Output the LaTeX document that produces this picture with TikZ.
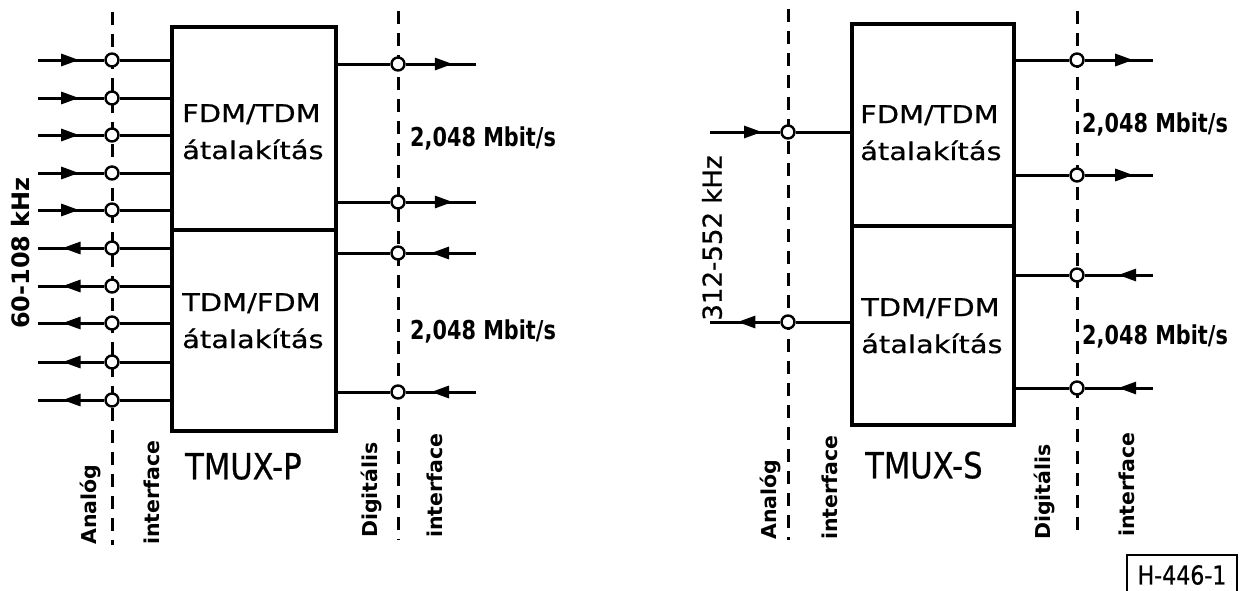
\documentclass[tikz,border=0pt]{standalone}
\usepackage{fontspec}
\setmainfont{DejaVu Sans}
\newfontfamily\boxfont[FakeStretch=1.18,FakeBold=0.6]{DejaVu Sans}
\newfontfamily\tmuxfont[FakeStretch=0.85,FakeBold=0.6]{DejaVu Sans}
\newfontfamily\ratefont[FakeStretch=0.8]{DejaVu Sans}
\newfontfamily\freqfont[FakeBold=0.8]{DejaVu Sans}
\usetikzlibrary{arrows.meta,decorations.markings}

\begin{document}
\begin{tikzpicture}[
	x=1pt, y=-1pt,
	blk/.style = {rectangle, draw, line width=3.4pt, minimum width=164pt, inner sep=0},
	ln/.style = {line width=3pt},
	sig/.style = {ln, postaction={decorate}, decoration={markings, mark=at position #1 with {\arrow{Triangle[length=18pt,width=12pt]}}}},
	iface/.style = {line width=3pt, dash pattern=on 13pt off 9pt},
	port/.style = {circle, draw, fill=white, line width=2.4pt, minimum size=13pt, inner sep=0},
	blktxt/.style = {anchor=north west, inner sep=0, align=left, font=\boxfont\fontsize{24.5}{37}\selectfont},
	vlbl/.style = {rotate=90, anchor=west, inner sep=0, font=\bfseries\fontsize{20.5}{24}\selectfont},
	rate/.style = {anchor=west, inner sep=0, font=\ratefont\bfseries\fontsize{26}{30}\selectfont},
	ttl/.style = {anchor=south west, inner sep=0, font=\tmuxfont\fontsize{36}{42}\selectfont}
	]
	\useasboundingbox (0, 0) rectangle (1243, 590);
	
	%TMUX-P
	\node[blk, minimum height=203pt]	(P-up)	at	(254, 128.5)	{};
	\node[blk, minimum height=201pt]	(P-lo)	at	(254, 330.5)	{};
	\node[blktxt]	(P-t1)	at	(182, 104)	{FDM/TDM\\átalakítás};
	\node[blktxt]	(P-t2)	at	(182, 293)	{TDM/FDM\\átalakítás};
	\node[ttl]		(P-name)	at	(185, 480)	{TMUX-P};
	
	\coordinate	(P-at)	at	(112, 12);
	\coordinate	(P-ab)	at	(112, 545);
	\coordinate	(P-dt)	at	(398, 11);
	\coordinate	(P-db)	at	(398, 540);
	\draw[iface]	(P-at)	--	(P-ab);
	\draw[iface]	(P-dt)	--	(P-db);
	
	\coordinate	(P-e1)	at	(38, 60);
	\coordinate	(P-e2)	at	(38, 98);
	\coordinate	(P-e3)	at	(38, 135);
	\coordinate	(P-e4)	at	(38, 173);
	\coordinate	(P-e5)	at	(38, 210);
	\coordinate	(P-e6)	at	(38, 248);
	\coordinate	(P-e7)	at	(38, 286);
	\coordinate	(P-e8)	at	(38, 323);
	\coordinate	(P-e9)	at	(38, 362);
	\coordinate	(P-e10)	at	(38, 400);
	\node[port]	(P-a1)	at	(112, 60)	{};
	\node[port]	(P-a2)	at	(112, 98)	{};
	\node[port]	(P-a3)	at	(112, 135)	{};
	\node[port]	(P-a4)	at	(112, 173)	{};
	\node[port]	(P-a5)	at	(112, 210)	{};
	\node[port]	(P-a6)	at	(112, 248)	{};
	\node[port]	(P-a7)	at	(112, 286)	{};
	\node[port]	(P-a8)	at	(112, 323)	{};
	\node[port]	(P-a9)	at	(112, 362)	{};
	\node[port]	(P-a10)	at	(112, 400)	{};
	
	\coordinate	(P-f1)	at	(476, 64);
	\coordinate	(P-f2)	at	(476, 202);
	\coordinate	(P-f3)	at	(476, 253);
	\coordinate	(P-f4)	at	(476, 392);
	\node[port]	(P-d1)	at	(398, 64)	{};
	\node[port]	(P-d2)	at	(398, 202)	{};
	\node[port]	(P-d3)	at	(398, 253)	{};
	\node[port]	(P-d4)	at	(398, 392)	{};
	
	\draw[sig=0.62]	(P-e1)	--	(P-a1);
	\draw[sig=0.62]	(P-e2)	--	(P-a2);
	\draw[sig=0.62]	(P-e3)	--	(P-a3);
	\draw[sig=0.62]	(P-e4)	--	(P-a4);
	\draw[sig=0.62]	(P-e5)	--	(P-a5);
	\draw[sig=0.63]	(P-a6)	--	(P-e6);
	\draw[sig=0.63]	(P-a7)	--	(P-e7);
	\draw[sig=0.63]	(P-a8)	--	(P-e8);
	\draw[sig=0.63]	(P-a9)	--	(P-e9);
	\draw[sig=0.63]	(P-a10)	--	(P-e10);
	\draw[ln]	(P-a1)	--	(P-up.west |- P-a1);
	\draw[ln]	(P-a2)	--	(P-up.west |- P-a2);
	\draw[ln]	(P-a3)	--	(P-up.west |- P-a3);
	\draw[ln]	(P-a4)	--	(P-up.west |- P-a4);
	\draw[ln]	(P-a5)	--	(P-up.west |- P-a5);
	\draw[ln]	(P-a6)	--	(P-lo.west |- P-a6);
	\draw[ln]	(P-a7)	--	(P-lo.west |- P-a7);
	\draw[ln]	(P-a8)	--	(P-lo.west |- P-a8);
	\draw[ln]	(P-a9)	--	(P-lo.west |- P-a9);
	\draw[ln]	(P-a10)	--	(P-lo.west |- P-a10);
	
	\draw[ln]		(P-up.east |- P-d1)	--	(P-d1);
	\draw[ln]		(P-up.east |- P-d2)	--	(P-d2);
	\draw[ln]		(P-lo.east |- P-d3)	--	(P-d3);
	\draw[ln]		(P-lo.east |- P-d4)	--	(P-d4);
	\draw[sig=0.67]	(P-d1)	--	(P-f1);
	\draw[sig=0.67]	(P-d2)	--	(P-f2);
	\draw[sig=0.64]	(P-f3)	--	(P-d3);
	\draw[sig=0.64]	(P-f4)	--	(P-d4);
	
	\node[rate]	(P-r1)	at	(410, 138)	{2,048 Mbit/s};
	\node[rate]	(P-r2)	at	(410, 331)	{2,048 Mbit/s};
	\node[rotate=90, inner sep=0, font=\bfseries\fontsize{24}{28}\selectfont]	(P-freq)	at	(21, 253)	{60-108 kHz};
	\node[vlbl]	(P-l1)	at	(91, 545)	{Analóg};
	\node[vlbl]	(P-l2)	at	(152, 545)	{interface};
	\node[vlbl]	(P-l3)	at	(372, 538)	{Digitális};
	\node[vlbl]	(P-l4)	at	(435, 538)	{interface};
	
	%TMUX-S
	\node[blk, minimum width=162pt, minimum height=202pt]	(S-up)	at	(933, 125)	{};
	\node[blk, minimum width=162pt, minimum height=199pt]	(S-lo)	at	(933, 325.5)	{};
	\node[blktxt]	(S-t1)	at	(860, 105)	{FDM/TDM\\átalakítás};
	\node[blktxt]	(S-t2)	at	(861, 298)	{TDM/FDM\\átalakítás};
	\node[ttl]		(S-name)	at	(865, 479)	{TMUX-S};
	
	\coordinate	(S-at)	at	(788, 9);
	\coordinate	(S-ab)	at	(788, 540);
	\coordinate	(S-dt)	at	(1077, 11);
	\coordinate	(S-db)	at	(1077, 538);
	\draw[iface]	(S-at)	--	(S-ab);
	\draw[iface]	(S-dt)	--	(S-db);
	
	\coordinate	(S-e1)	at	(710, 132);
	\coordinate	(S-e2)	at	(710, 322);
	\node[port]	(S-a1)	at	(788, 132)	{};
	\node[port]	(S-a2)	at	(788, 322)	{};
	\coordinate	(S-f1)	at	(1153, 60);
	\coordinate	(S-f2)	at	(1153, 175);
	\coordinate	(S-f3)	at	(1153, 275);
	\coordinate	(S-f4)	at	(1153, 388);
	\node[port]	(S-d1)	at	(1077, 60)	{};
	\node[port]	(S-d2)	at	(1077, 175)	{};
	\node[port]	(S-d3)	at	(1077, 275)	{};
	\node[port]	(S-d4)	at	(1077, 388)	{};
	
	\draw[sig=0.74]	(S-e1)	--	(S-a1);
	\draw[sig=0.61]	(S-a2)	--	(S-e2);
	\draw[ln]	(S-a1)	--	(S-up.west |- S-a1);
	\draw[ln]	(S-a2)	--	(S-lo.west |- S-a2);
	\draw[ln]	(S-up.east |- S-d1)	--	(S-d1);
	\draw[ln]	(S-up.east |- S-d2)	--	(S-d2);
	\draw[ln]	(S-lo.east |- S-d3)	--	(S-d3);
	\draw[ln]	(S-lo.east |- S-d4)	--	(S-d4);
	\draw[sig=0.71]	(S-d1)	--	(S-f1);
	\draw[sig=0.71]	(S-d2)	--	(S-f2);
	\draw[sig=0.51]	(S-f3)	--	(S-d3);
	\draw[sig=0.51]	(S-f4)	--	(S-d4);
	
	\node[rate]	(S-r1)	at	(1082, 124)	{2,048 Mbit/s};
	\node[rate]	(S-r2)	at	(1082, 336)	{2,048 Mbit/s};
	\node[rotate=90, inner sep=0, font=\freqfont\fontsize{26}{30}\selectfont]	(S-freq)	at	(712, 238)	{312-552 kHz};
	\node[vlbl]	(S-l1)	at	(771, 540)	{Analóg};
	\node[vlbl]	(S-l2)	at	(830, 540)	{interface};
	\node[vlbl]	(S-l3)	at	(1045, 540)	{Digitális};
	\node[vlbl]	(S-l4)	at	(1127, 537)	{interface};
	
	\node[draw, line width=2.4pt, minimum width=110pt, minimum height=40pt, inner sep=0, font=\tmuxfont\fontsize{26}{30}\selectfont]	(ref)	at	(1182, 575)	{H-446-1};
	
\end{tikzpicture}
\end{document}
